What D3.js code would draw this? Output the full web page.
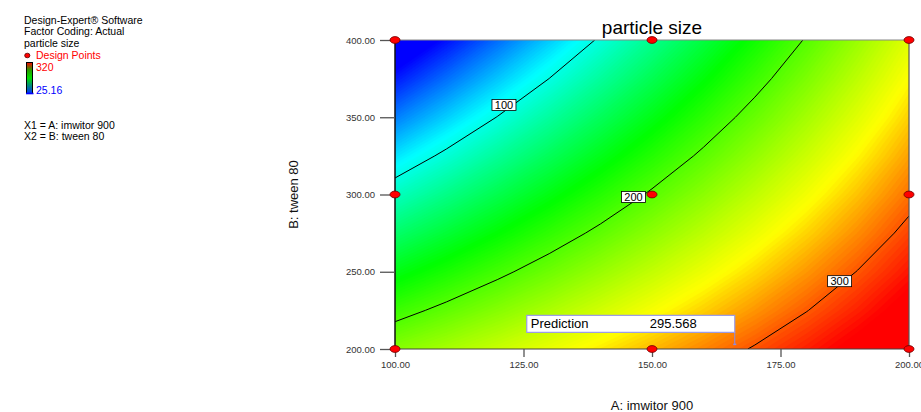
<!DOCTYPE html>
<html><head><meta charset="utf-8">
<script src="https://cdn.jsdelivr.net/npm/d3@7"></script>
<style>
body{margin:0;background:#fff}
text{font-family:"Liberation Sans",Arial,sans-serif}
</style>
</head><body>
<svg id="chart" width="921" height="412"></svg>
<script>
// ---------------- data ----------------
const chartTitle = "particle size";
const xTitle = "A: imwitor 900";
const yTitle = "B: tween 80";
const infoLines = ["Design-Expert\u00AE Software", "Factor Coding: Actual", "particle size"];
const factorLines = ["X1 = A: imwitor 900", "X2 = B: tween 80"];
const legendMax = 320;
const legendMin = 25.16;

// grid of the response (particle size)
const gridA = [100, 110, 120, 130, 140, 150, 160, 170, 180, 190, 200];
const gridB = [400, 375, 350, 325, 300, 275, 250, 225, 200];
const gridValues = [
  [  4.0,  28.7,  53.4,  78.1, 102.8, 127.5, 152.2, 176.9, 201.6, 226.3, 251.0],
  [ 30.9,  54.0,  77.1, 100.1, 123.2, 146.3, 169.4, 192.5, 215.6, 238.7, 261.8],
  [ 57.8,  79.2, 100.7, 122.2, 143.7, 165.1, 186.6, 208.1, 229.6, 251.0, 272.5],
  [ 84.6, 104.5, 124.4, 144.2, 164.1, 183.9, 203.8, 223.7, 243.5, 263.4, 283.3],
  [111.5, 129.8, 148.0, 166.3, 184.5, 202.8, 221.0, 239.3, 257.5, 275.8, 294.0],
  [138.4, 155.0, 171.6, 188.3, 204.9, 221.6, 238.2, 254.8, 271.5, 288.1, 304.8],
  [165.3, 180.3, 195.3, 210.3, 225.4, 240.4, 255.4, 270.4, 285.5, 300.5, 315.5],
  [192.1, 205.5, 219.0, 232.4, 245.8, 259.2, 272.6, 286.0, 299.4, 312.8, 326.3],
  [219.0, 230.8, 242.6, 254.4, 266.2, 278.0, 289.8, 301.6, 313.4, 325.2, 337.0]
];
const xTicks = [100, 125, 150, 175, 200];
const yTicks = [200, 250, 300, 350, 400];
const contourLevels = [100, 200, 300];
const contourLabelA = [121.2, 146.4, 186.5];
const contourLabelB = [357.9, 298.4, 243.9];
const designA = [100, 100, 100, 150, 150, 150, 200, 200, 200];
const designB = [200, 300, 400, 200, 300, 400, 200, 300, 400];
const predictionA = 166.1;
const predictionB = 203;
const predictionValue = "295.568";

// ---------------- drawing ----------------
const svg = d3.select("#chart");
const plot = {left: 395, right: 909, top: 40, bottom: 349};
const x = d3.scaleLinear().domain([100, 200]).range([plot.left, plot.right]);
const y = d3.scaleLinear().domain([200, 400]).range([plot.bottom, plot.top]);

const colour = d3.scaleLinear()
  .domain([legendMin, 92, 172, 262, legendMax])
  .range(["#0000ff", "#00ffff", "#00ff00", "#ffff00", "#ff0000"])
  .clamp(true);

// grid coordinates -> data
const nx = gridA.length, ny = gridB.length;
const gxToA = d3.scaleLinear().domain([0.5, nx - 0.5]).range([gridA[0], gridA[nx - 1]]);
const gyToB = d3.scaleLinear().domain([0.5, ny - 0.5]).range([gridB[0], gridB[ny - 1]]);
const proj = d3.geoTransform({
  point: function(px, py) { this.stream.point(x(gxToA(px)), y(gyToB(py))); }
});
const path = d3.geoPath(proj);
const flat = gridValues.flat();

svg.append("defs").append("clipPath").attr("id", "plotclip")
  .append("rect")
  .attr("x", plot.left).attr("y", plot.top)
  .attr("width", plot.right - plot.left).attr("height", plot.bottom - plot.top);

const gFill = svg.append("g").attr("clip-path", "url(#plotclip)");
const bandStep = 2;
const bandThresholds = d3.range(0, 346, bandStep);
const bands = d3.contours().size([nx, ny]).thresholds(bandThresholds)(flat);
gFill.selectAll("path").data(bands).join("path")
  .attr("d", path)
  .attr("fill", d => colour(d.value + bandStep / 2))
  .attr("stroke", d => colour(d.value + bandStep / 2))
  .attr("stroke-width", 0.4);

// contour lines
const lines = d3.contours().size([nx, ny]).thresholds(contourLevels)(flat);
const gLines = svg.append("g").attr("clip-path", "url(#plotclip)");
gLines.selectAll("path").data(lines).join("path")
  .attr("d", path)
  .attr("fill", "none")
  .attr("stroke", "#000")
  .attr("stroke-width", 1);

// plot frame
svg.append("line").attr("x1", plot.left).attr("x2", plot.right).attr("y1", plot.top).attr("y2", plot.top)
  .attr("stroke", "#888").attr("stroke-width", 1.2);
svg.append("line").attr("x1", plot.right).attr("x2", plot.right).attr("y1", plot.top).attr("y2", plot.bottom)
  .attr("stroke", "#555").attr("stroke-width", 1.2);
svg.append("line").attr("x1", plot.left).attr("x2", plot.right).attr("y1", plot.bottom).attr("y2", plot.bottom)
  .attr("stroke", "#444").attr("stroke-width", 1.2);
svg.append("line").attr("x1", plot.left).attr("x2", plot.left).attr("y1", plot.top).attr("y2", plot.bottom)
  .attr("stroke", "#111").attr("stroke-width", 1.5);

// axes
const fmt = d3.format(".2f");
const yAxis = svg.append("g").attr("transform", `translate(${plot.left},0)`)
  .call(d3.axisLeft(y).tickValues(yTicks).tickFormat(fmt).tickSize(15).tickPadding(5));
const xAxis = svg.append("g").attr("transform", `translate(0,${plot.bottom})`)
  .call(d3.axisBottom(x).tickValues(xTicks).tickFormat(fmt).tickSize(8).tickPadding(4));
[xAxis, yAxis].forEach(g => {
  g.select(".domain").remove();
  g.selectAll(".tick line").attr("stroke", "#555").attr("stroke-width", 1.3);
  g.selectAll(".tick text").attr("fill", "#333").style("font-size", "9.5px")
    .style("font-family", "'Liberation Sans',Arial,sans-serif");
});

// contour labels
const gLab = svg.append("g");
contourLevels.forEach((lev, i) => {
  const cx = x(contourLabelA[i]), cy = y(contourLabelB[i]);
  gLab.append("rect").attr("x", cx - 12).attr("y", cy - 5.5).attr("width", 24).attr("height", 11)
    .attr("fill", "#fff").attr("stroke", "#000").attr("stroke-width", 0.8);
  gLab.append("text").attr("x", cx).attr("y", cy + 4).attr("text-anchor", "middle")
    .style("font-size", "11px").attr("fill", "#000").text(lev);
});

// prediction flag
const px = x(predictionA), py = y(predictionB);
const gPred = svg.append("g");
gPred.append("line").attr("x1", px).attr("x2", px).attr("y1", py - 12).attr("y2", py)
  .attr("stroke", "#8a8ae6").attr("stroke-width", 1);
gPred.append("line").attr("x1", px - 1.5).attr("x2", px + 1.5).attr("y1", py).attr("y2", py)
  .attr("stroke", "#8a8ae6").attr("stroke-width", 1.5);
gPred.append("rect").attr("x", px - 208).attr("y", py - 29).attr("width", 208).attr("height", 17)
  .attr("fill", "#fff").attr("stroke", "#9a9ae8").attr("stroke-width", 1.2);
gPred.append("text").attr("x", px - 204).attr("y", py - 16).style("font-size", "13px").attr("fill", "#000")
  .text("Prediction");
gPred.append("text").attr("x", px - 85).attr("y", py - 16).style("font-size", "13px").attr("fill", "#000")
  .text(predictionValue);

// design points
svg.append("g").selectAll("ellipse").data(designA).join("ellipse")
  .attr("cx", (d) => x(d)).attr("cy", (d, i) => y(designB[i]))
  .attr("rx", 5).attr("ry", 3.4)
  .attr("fill", "#ff0000").attr("stroke", "#6a0000").attr("stroke-width", 0.8);

// titles
svg.append("text").attr("x", (plot.left + plot.right) / 2).attr("y", 34).attr("text-anchor", "middle")
  .style("font-size", "19px").attr("fill", "#000").text(chartTitle);
svg.append("text").attr("x", (plot.left + plot.right) / 2).attr("y", 410).attr("text-anchor", "middle")
  .style("font-size", "13px").attr("fill", "#111").text(xTitle);
svg.append("text").attr("transform", `translate(298,${(plot.top + plot.bottom) / 2}) rotate(-90)`)
  .attr("text-anchor", "middle").style("font-size", "13px").attr("fill", "#111").text(yTitle);

// left info block
const gInfo = svg.append("g").style("font-size", "10.5px");
infoLines.forEach((t, i) => {
  gInfo.append("text").attr("x", 24).attr("y", 24 + i * 11.3).attr("fill", "#000").text(t);
});
gInfo.append("ellipse").attr("cx", 27.3).attr("cy", 55.5).attr("rx", 2.6).attr("ry", 2.3)
  .attr("fill", "#ff0000").attr("stroke", "#500").attr("stroke-width", 0.8);
gInfo.append("text").attr("x", 36).attr("y", 58.5).attr("fill", "#ff0000").text("Design Points");

const grad = svg.select("defs").append("linearGradient").attr("id", "legGrad")
  .attr("x1", 0).attr("y1", 0).attr("x2", 0).attr("y2", 1);
const legendStops = [legendMax, 250, 172, legendMin];
const legendStopColours = ["#ff0000", "#2a9a00", "#00e000", "#0030ff"];
legendStops.forEach((v, i) => {
  grad.append("stop")
    .attr("offset", (legendMax - v) / (legendMax - legendMin))
    .attr("stop-color", legendStopColours[i]);
});
gInfo.append("rect").attr("x", 26.5).attr("y", 62.5).attr("width", 6).attr("height", 31)
  .attr("fill", "url(#legGrad)").attr("stroke", "#000").attr("stroke-width", 1);
gInfo.append("line").attr("x1", 26).attr("x2", 33.5).attr("y1", 93.5).attr("y2", 93.5)
  .attr("stroke", "#0000ff").attr("stroke-width", 1.6);
gInfo.append("text").attr("x", 36).attr("y", 70.8).attr("fill", "#ff0000").text(legendMax);
gInfo.append("text").attr("x", 36).attr("y", 93.5).attr("fill", "#0000ff").text(legendMin);
factorLines.forEach((t, i) => {
  gInfo.append("text").attr("x", 24).attr("y", 129.3 + i * 11).attr("fill", "#000").text(t);
});
</script>
</body></html>
